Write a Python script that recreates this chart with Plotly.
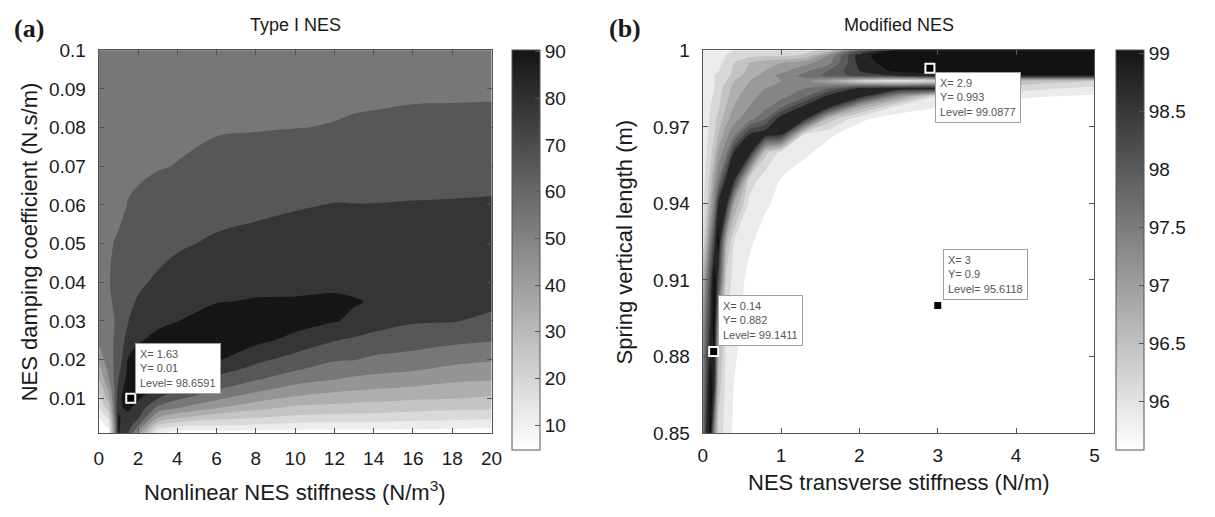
import numpy as np
import plotly.graph_objects as go

# ---------------- Panel (a): Type I NES ----------------
X_A = [0, 0.5, 1, 1.5, 2, 3, 4, 6, 8, 10, 12, 13, 14, 16, 18, 20]
Y_A = [0.001, 0.003, 0.005, 0.0075, 0.01, 0.0125, 0.015, 0.0175, 0.02, 0.025,
       0.03, 0.035, 0.04, 0.05, 0.06, 0.07, 0.08, 0.09, 0.1]
# efficiency (%) read column by column (one list per X_A value, bottom -> top)
Z_A_COLS = [
    [3, 6, 10, 19, 25, 31.5, 40, 46, 53, 62, 64, 65, 65.5, 65.5, 65, 64, 63, 62, 61],
    [8, 12, 22, 35, 45, 52, 59, 63, 66, 68, 68.5, 69, 69.5, 69, 67.5, 66, 64.5, 63, 61.5],
    [91, 91, 90.5, 89, 86, 83, 80, 77, 74, 72, 71, 72, 73, 71, 68, 66.5, 65, 63.5, 62],
    [80, 85, 88, 91, 99, 97, 94.1, 92, 90.8, 85, 79.7, 78.1, 76.6, 73.4, 70.3, 68.4, 66.6, 64.8, 63],
    [55, 72, 82, 87.5, 91.3, 94.5, 97.7, 97.3, 94.4, 89, 84.9, 80.8, 78.5, 74.8, 71.1, 68.9, 67.2, 65.6, 64],
    [12, 30.5, 50.5, 67.2, 80.5, 90.6, 93.8, 96.9, 97.7, 92.4, 88.1, 84.7, 81.4, 76.9, 72.9, 69.6, 68.1, 66.6, 65],
    [5, 23, 41.7, 60.5, 72, 82, 90.7, 93.9, 97.2, 94.7, 89.8, 87.1, 84.1, 78.7, 74.3, 70.2, 68.7, 67.3, 66],
    [5, 20.5, 33.3, 50.5, 62, 71.3, 77.5, 85, 91.1, 96.9, 94.1, 89.6, 86.9, 81.4, 76.6, 72, 69.4, 68.2, 67],
    [5, 18.6, 30.5, 42.5, 54, 63.3, 71.1, 76.7, 82.6, 92.5, 95.9, 90.6, 87.8, 82.8, 77.9, 73.1, 69.6, 68.6, 67.5],
    [5, 16.7, 27.5, 38, 48, 56.7, 64.3, 71, 76, 87.1, 94, 90.7, 88.1, 83.7, 79.3, 74.4, 69.9, 68.9, 68],
    [5, 15.9, 26.2, 36.3, 45, 52.9, 60.5, 65.6, 70.9, 80.5, 90.5, 91.5, 88.1, 84, 80.3, 75.1, 70.2, 69, 68],
    [5, 15.9, 25.9, 35.7, 43.9, 51.4, 58.6, 64.4, 70.4, 78.3, 88.5, 90.6, 87.8, 83.9, 80.2, 75.2, 70.5, 69.1, 68],
    [5, 15.6, 25.5, 35, 42.9, 50.4, 57.1, 63, 68, 76.7, 84.4, 89.4, 87.2, 83.7, 80.2, 75.6, 70.9, 68.9, 67.5],
    [5, 15, 24, 33.3, 41.4, 48.6, 55, 61, 66, 74.6, 81, 84.3, 87.7, 85.2, 80.5, 76.1, 71.7, 68.9, 67],
    [5, 14, 23.1, 32.2, 40.5, 46.3, 52.2, 57.8, 63, 72.3, 80.5, 83, 86.1, 85.6, 80.7, 76.4, 72.1, 68.8, 66.5],
    [5, 12.5, 22, 31.4, 38.6, 45, 51, 56, 61, 70.6, 78, 82.1, 85.1, 85.7, 81, 76.7, 72.4, 68.8, 66],
]
LEVELS_A = [10, 90, 10]  # start, end, step
BANDS_A = ['#ffffff', '#ececec', '#d9d9d9', '#c4c4c4', '#aeaeae', '#959595',
           '#777777', '#575757', '#353535', '#161616']
CBAR_A = [4.6, 90.3]
CBAR_TICKS_A = [10, 20, 30, 40, 50, 60, 70, 80, 90]
XTICKS_A = [0, 2, 4, 6, 8, 10, 12, 14, 16, 18, 20]
YTICKS_A = [0.01, 0.02, 0.03, 0.04, 0.05, 0.06, 0.07, 0.08, 0.09, 0.1]
YTICKTEXT_A = ['0.01', '0.02', '0.03', '0.04', '0.05', '0.06', '0.07', '0.08', '0.09', '0.1']
TIP_A_X = [1.63]
TIP_A_Y = [0.01]
TIP_A_LEVEL = [98.6591]

# ---------------- Panel (b): Modified NES ----------------
X_B = [0, 0.05, 0.1, 0.15, 0.2, 0.3, 0.4, 0.6, 0.8, 1.0, 1.3, 1.6, 2.0, 2.5, 3.0, 3.5, 4.0, 4.5, 5.0]
Y_B = [0.85, 0.87, 0.89, 0.91, 0.925, 0.94, 0.95, 0.96, 0.967, 0.973, 0.978, 0.982,
       0.985, 0.988, 0.99, 0.992, 0.995, 0.998, 1.0]
Z_B_ROWS = [
    [97.6, 98.6, 98.9, 97.3, 96.3, 95.95, 95.75, 95.6, 95.6, 95.6, 95.6, 95.6, 95.6, 95.6, 95.6, 95.6, 95.6, 95.6, 95.6],
    [97.4, 98.3, 98.95, 98.6, 96.6, 96.0, 95.8, 95.6, 95.6, 95.6, 95.6, 95.6, 95.6, 95.6, 95.6, 95.6, 95.6, 95.6, 95.6],
    [97.2, 98.0, 98.6, 99.0, 97.0, 96.1, 95.9, 95.65, 95.6, 95.6, 95.6, 95.6, 95.6, 95.6, 95.6, 95.6, 95.6, 95.6, 95.6],
    [96.7, 97.5, 98.3, 99.0, 98.3, 96.3, 96.0, 95.7, 95.6, 95.6, 95.6, 95.6, 95.6, 95.6, 95.6, 95.6, 95.6, 95.6, 95.6],
    [96.1, 96.8, 97.6, 98.4, 99.0, 96.8, 96.1, 95.85, 95.65, 95.6, 95.6, 95.6, 95.6, 95.6, 95.6, 95.6, 95.6, 95.6, 95.6],
    [96.0, 96.3, 96.9, 97.5, 98.55, 98.75, 97.0, 96.0, 95.85, 95.7, 95.6, 95.6, 95.6, 95.6, 95.6, 95.6, 95.6, 95.6, 95.6],
    [95.95, 96.2, 96.5, 97.1, 97.5, 98.55, 98.75, 96.3, 95.95, 95.8, 95.65, 95.6, 95.6, 95.6, 95.6, 95.6, 95.6, 95.6, 95.6],
    [95.95, 96.1, 96.3, 96.6, 97.1, 97.5, 98.55, 98.75, 96.5, 96.0, 95.85, 95.7, 95.6, 95.6, 95.6, 95.6, 95.6, 95.6, 95.6],
    [95.95, 96.05, 96.2, 96.4, 96.7, 97.2, 97.5, 98.55, 98.75, 98.6, 96.1, 95.85, 95.65, 95.6, 95.6, 95.6, 95.6, 95.6, 95.6],
    [95.95, 96.0, 96.15, 96.3, 96.5, 96.9, 97.2, 97.5, 97.9, 98.75, 98.6, 96.6, 95.85, 95.65, 95.6, 95.6, 95.6, 95.6, 95.6],
    [95.95, 96.0, 96.1, 96.2, 96.35, 96.7, 97.0, 97.3, 97.5, 97.8, 98.6, 98.75, 97.0, 96.0, 95.82, 95.7, 95.65, 95.6, 95.6],
    [95.95, 96.0, 96.05, 96.15, 96.3, 96.6, 96.9, 97.2, 97.4, 97.5, 97.8, 98.6, 98.75, 97.2, 96.1, 95.95, 95.85, 95.8, 95.75],
    [95.95, 96.0, 96.05, 96.1, 96.25, 96.55, 96.8, 97.1, 97.3, 97.4, 97.6, 97.9, 98.6, 98.75, 98.7, 97.0, 96.3, 96.1, 96.0],
    [95.95, 96.0, 96.05, 96.1, 96.2, 96.4, 96.7, 97.0, 97.2, 97.3, 97.4, 97.0, 96.3, 96.0, 96.3, 97.0, 96.6, 96.5, 96.4],
    [95.95, 96.0, 96.05, 96.1, 96.15, 96.3, 96.5, 96.9, 97.1, 97.4, 97.7, 98.0, 98.3, 98.5, 98.6, 98.7, 98.75, 98.75, 98.75],
    [95.95, 96.0, 96.0, 96.05, 96.1, 96.25, 96.45, 96.8, 97.0, 97.2, 97.5, 97.9, 98.5, 98.9, 99.1, 99.1, 99.1, 99.1, 99.1],
    [95.9, 95.95, 96.0, 96.0, 96.05, 96.15, 96.4, 96.7, 96.9, 97.0, 97.2, 97.5, 98.6, 99.05, 99.1, 99.1, 99.1, 99.1, 99.1],
    [95.9, 95.9, 95.95, 96.0, 96.0, 96.1, 96.2, 96.3, 96.35, 96.35, 96.45, 97.3, 98.7, 99.05, 99.1, 99.1, 99.1, 99.1, 99.1],
    [95.9, 95.9, 95.9, 95.95, 96.0, 96.05, 96.1, 96.15, 96.2, 96.25, 96.3, 96.5, 98.0, 98.9, 99.1, 99.1, 99.1, 99.1, 99.1],
]
LEVELS_B = [95.8, 98.8, 0.3]
BANDS_B = ['#ffffff', '#ebebeb', '#d8d8d8', '#c3c3c3', '#afafaf', '#9a9a9a',
           '#858585', '#707070', '#5b5b5b', '#454545', '#242424', '#121212']
CBAR_B = [95.58, 99.03]
CBAR_TICKS_B = [96, 96.5, 97, 97.5, 98, 98.5, 99]
XTICKS_B = [0, 1, 2, 3, 4, 5]
YTICKS_B = [0.85, 0.88, 0.91, 0.94, 0.97, 1.0]
YTICKTEXT_B = ['0.85', '0.88', '0.91', '0.94', '0.97', '1']
TIP_B_X = [2.9, 0.14, 3]
TIP_B_Y = [0.993, 0.882, 0.9]
TIP_B_LEVEL = [99.0877, 99.1411, 95.6118]

# ---------------- layout constants (pixels) ----------------
W, H = 1215, 517
SANS = 'Liberation Sans, Arial, sans-serif'
SERIF = 'Liberation Serif, Times New Roman, serif'
AX_TOP, AX_BOT = 42, 441
A_L, A_R = 95, 493
B_L, B_R = 707, 1104
CB_A_L, CB_B_L = 514, 1126
AXCOL = '#555555'
TXT = '#1a1a1a'


def px_x(p):
    return p / W


def px_y(p):
    return 1 - p / H


def band_scale(colors):
    n = len(colors) - 1
    return [[k / n, c] for k, c in enumerate(colors)]


fig = go.Figure()

fig.add_trace(go.Contour(
    x=X_A, y=Y_A, z=np.array(Z_A_COLS).T,
    autocontour=False,
    contours=dict(start=LEVELS_A[0], end=LEVELS_A[1], size=LEVELS_A[2],
                  coloring='fill', showlines=False),
    line=dict(width=0, smoothing=1.0),
    colorscale=band_scale(BANDS_A), showscale=False,
    hoverinfo='skip', xaxis='x', yaxis='y'))

fig.add_trace(go.Contour(
    x=X_B, y=Y_B, z=Z_B_ROWS,
    autocontour=False,
    contours=dict(start=LEVELS_B[0], end=LEVELS_B[1], size=LEVELS_B[2],
                  coloring='fill', showlines=False),
    line=dict(width=0, smoothing=0.6),
    colorscale=band_scale(BANDS_B), showscale=False,
    hoverinfo='skip', xaxis='x2', yaxis='y2'))


def cbar(left_px, ticks):
    return dict(
        x=px_x(left_px), xanchor='left', xref='paper',
        y=px_y(AX_TOP), yanchor='top', yref='paper',
        len=AX_BOT - AX_TOP + 1, lenmode='pixels',
        thickness=28, thicknessmode='pixels',
        outlinecolor=AXCOL, outlinewidth=1,
        tickvals=ticks, ticks='inside', ticklen=5, tickcolor=AXCOL,
        tickfont=dict(family=SANS, size=19, color=TXT),
        xpad=0, ypad=0)


GRAY_CB = [[0, '#ffffff'], [1, '#141414']]
fig.add_trace(go.Scatter(
    x=[X_A[0]], y=[Y_A[0]], mode='markers', xaxis='x', yaxis='y',
    marker=dict(opacity=0, size=1, color=[CBAR_A[0]], cmin=CBAR_A[0], cmax=CBAR_A[1],
                colorscale=GRAY_CB, showscale=True, colorbar=cbar(CB_A_L, CBAR_TICKS_A)),
    hoverinfo='skip', showlegend=False))
fig.add_trace(go.Scatter(
    x=[X_B[0]], y=[Y_B[0]], mode='markers', xaxis='x2', yaxis='y2',
    marker=dict(opacity=0, size=1, color=[CBAR_B[0]], cmin=CBAR_B[0], cmax=CBAR_B[1],
                colorscale=GRAY_CB, showscale=True, colorbar=cbar(CB_B_L, CBAR_TICKS_B)),
    hoverinfo='skip', showlegend=False))

TIP_MARKER = dict(symbol='square', size=9, color='#000000', line=dict(color='#ffffff', width=2))
fig.add_trace(go.Scatter(x=TIP_A_X, y=TIP_A_Y, mode='markers', marker=TIP_MARKER,
                         xaxis='x', yaxis='y', hoverinfo='skip', showlegend=False))
fig.add_trace(go.Scatter(x=TIP_B_X, y=TIP_B_Y, mode='markers', marker=TIP_MARKER,
                         xaxis='x2', yaxis='y2', hoverinfo='skip', showlegend=False))

annotations = []


def tip(x, y, lvl, xr, yr, yanchor, xshift, yshift):
    annotations.append(dict(
        x=x, y=y, xref=xr, yref=yr, xanchor='left', yanchor=yanchor,
        xshift=xshift, yshift=yshift, showarrow=False, align='left',
        text=f'X= {x}<br>Y= {y}<br>Level= {lvl}',
        font=dict(family=SANS, size=11, color='#555555'),
        bgcolor='#ffffff', bordercolor='#a0a0a0', borderwidth=1, borderpad=4))


tip(TIP_A_X[0], TIP_A_Y[0], TIP_A_LEVEL[0], 'x', 'y', 'bottom', 4, 4)
TIP_B_STYLE = [('top', 5, -4), ('bottom', 4, 5), ('bottom', 5, 5)]
for i in range(len(TIP_B_X)):
    ya, xs, ys = TIP_B_STYLE[i]
    tip(TIP_B_X[i], TIP_B_Y[i], TIP_B_LEVEL[i], 'x2', 'y2', ya, xs, ys)


def text(t, xp, yp, size, family=SANS, angle=0, bold=False):
    annotations.append(dict(
        x=px_x(xp), y=px_y(yp), xref='paper', yref='paper',
        xanchor='center', yanchor='middle', showarrow=False, textangle=angle,
        text=f'<b>{t}</b>' if bold else t,
        font=dict(family=family, size=size, color=TXT)))


text('Type I NES', (A_L + A_R) / 2, 16, 18)
text('Modified NES', (B_L + B_R) / 2, 16, 18)
text('(a)', 24, 19, 26, family=SERIF, bold=True)
text('(b)', 628, 19, 26, family=SERIF, bold=True)
text('NES damping coefficient (N.s/m)', 25, (AX_TOP + AX_BOT) / 2, 22, angle=-90)
text('Spring vertical length (m)', 628, (AX_TOP + AX_BOT) / 2, 22, angle=-90)
text('Nonlinear NES stiffness (N/m<sup>3</sup>)', (A_L + A_R) / 2, 501, 22)
text('NES transverse stiffness (N/m)', (B_L + B_R) / 2, 492, 22)


def axis(domain, rng, tickvals, ticktext=None, anchor=None, standoff=8):
    d = dict(domain=domain, range=rng, tickvals=tickvals, ticks='inside', ticklen=5,
             tickcolor=AXCOL, showline=True, linecolor=AXCOL, linewidth=1, mirror='ticks',
             showgrid=False, zeroline=False, tickfont=dict(family=SANS, size=19, color=TXT),
             ticklabelstandoff=standoff, anchor=anchor, fixedrange=True)
    if ticktext is not None:
        d['ticktext'] = ticktext
    return d


fig.update_layout(
    width=W, height=H, autosize=False,
    margin=dict(l=0, r=0, t=0, b=0, pad=0),
    paper_bgcolor='#ffffff', plot_bgcolor='#ffffff',
    showlegend=False,
    xaxis=axis([px_x(A_L), px_x(A_R)], [0, 20], XTICKS_A, anchor='y'),
    yaxis=axis([px_y(AX_BOT), px_y(AX_TOP)], [0.001, 0.1], YTICKS_A, YTICKTEXT_A, anchor='x'),
    xaxis2=axis([px_x(B_L), px_x(B_R)], [0, 5], XTICKS_B, anchor='y2', standoff=5),
    yaxis2=axis([px_y(AX_BOT), px_y(AX_TOP)], [0.85, 1.0], YTICKS_B, YTICKTEXT_B, anchor='x2'),
    annotations=annotations,
)

fig.write_html('out.html')
